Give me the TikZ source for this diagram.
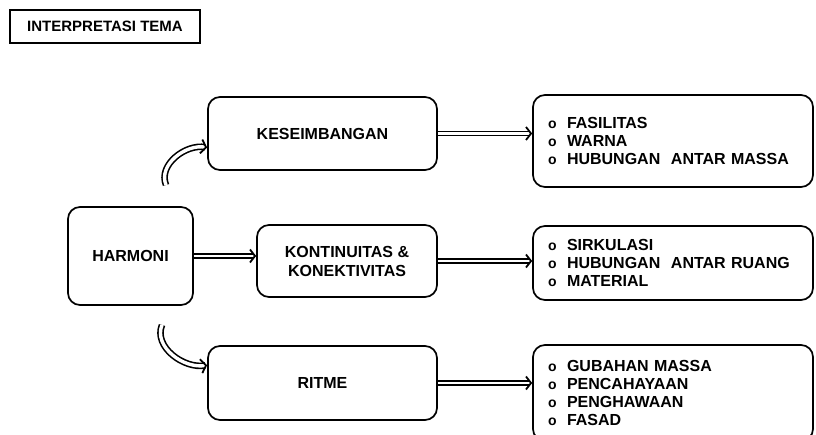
\documentclass[tikz,border=0pt]{standalone}
\usepackage{fontspec}
\setmainfont{Liberation Sans}
\usetikzlibrary{arrows.meta}

\tikzstyle{titlebox} = [rectangle, minimum width=190pt, minimum height=33pt, draw=black, line width=1.2pt, text centered, font=\bfseries\fontsize{15}{17}\selectfont]
\tikzstyle{process} = [rectangle, rounded corners=12pt, draw=black, line width=1.7pt, fill=white, align=center, font=\bfseries\fontsize{16}{19}\selectfont]
\tikzstyle{itembox} = [process, align=left, text width=250pt, inner xsep=15pt, font=\bfseries\fontsize{16}{18}\selectfont]
\tikzstyle{arrow} = [double, double distance=2.4pt, line width=1.6pt, -{Straight Barb[length=5pt, width=13pt, line width=1.8pt]}]
\tikzstyle{curvedarrow} = [double, double distance=3.4pt, line width=1.6pt, -{Straight Barb[length=5pt, width=14pt, line width=1.8pt]}]

\newcommand{\poin}[1]{\makebox[19pt][l]{\fontsize{14}{14}\selectfont o}#1}

\begin{document}
\begin{tikzpicture}[x=1pt, y=-1pt]
	\useasboundingbox (0,0) rectangle (816,435);
	% Place nodes
	\node [titlebox] (Judul) at (105,26.5) {INTERPRETASI TEMA};
	\node [process, minimum width=125pt, minimum height=98pt] (Harmoni) at (130.5,256) {HARMONI};
	\node [process, minimum width=229pt, minimum height=73pt] (Keseimbangan) at (322.5,133.5) {KESEIMBANGAN};
	\node [process, minimum width=180pt, minimum height=72pt] (Kontinuitas) at (347,261) {KONTINUITAS \&\\KONEKTIVITAS};
	\node [process, minimum width=229pt, minimum height=74pt] (Ritme) at (322.5,383) {RITME};
	\node [itembox, minimum height=92pt] (ListA) at (673,141) {\poin{FASILITAS}\\\poin{WARNA}\\\poin{HUBUNGAN~ ANTAR MASSA}};
	\node [itembox, minimum height=74pt] (ListB) at (673,263) {\poin{SIRKULASI}\\\poin{HUBUNGAN~ ANTAR RUANG}\\\poin{MATERIAL}};
	\node [itembox, minimum height=96pt] (ListC) at (673,393) {\poin{GUBAHAN MASSA}\\\poin{PENCAHAYAAN}\\\poin{PENGHAWAAN}\\\poin{FASAD}};
	\coordinate (EkorAtas) at (166,185);
	\coordinate (EkorBawah) at (162,325);
	% Draw edges
	\draw [arrow] (Keseimbangan.east) -- (Keseimbangan.east -| ListA.west);
	\draw [arrow] (Harmoni.east) -- (Harmoni.east -| Kontinuitas.west);
	\draw [arrow] (Kontinuitas.east) -- (Kontinuitas.east -| ListB.west);
	\draw [arrow] (Ritme.east) -- (Ritme.east -| ListC.west);
	\draw [curvedarrow] (EkorAtas) to[out=112, in=170] ([yshift=-14pt]Keseimbangan.west);
	\draw [curvedarrow] (EkorBawah) to[out=248, in=190] ([yshift=-20pt]Ritme.north west);
\end{tikzpicture}
\end{document}
